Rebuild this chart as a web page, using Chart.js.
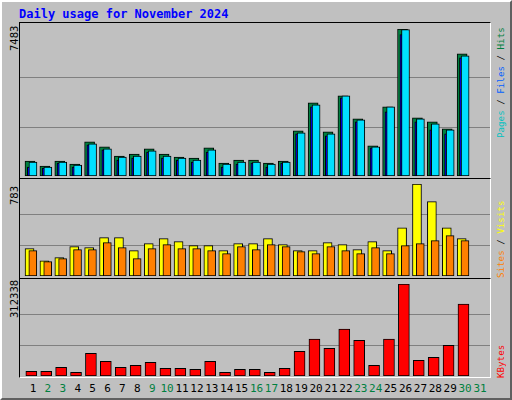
<!DOCTYPE html>
<html lang="en">
<head>
<meta charset="UTF-8">
<title>Daily usage for November 2024</title>
<script src="https://cdn.jsdelivr.net/npm/chart.js"></script>
<style>
    body { margin: 0; background: #c0c0c0; }
    #frame {
        position: absolute; left: 0; top: 0; width: 508px; height: 396px;
        background: #c0c0c0;
        border-top: 2px solid #ffffff; border-left: 2px solid #ffffff;
        border-right: 2px solid #606060; border-bottom: 2px solid #606060;
    }
    .box { position: absolute; border-top: 1px solid #000; border-left: 1px solid #000;
        border-right: 1px solid #fff; border-bottom: 1px solid #fff; }
    .plot { position: absolute; }
    .title { position: absolute; left: 19px; top: 7px; font: bold 12px "DejaVu Sans Mono", monospace; color: #0000ff; }
    .rot { position: absolute; transform-origin: 0 0; transform: rotate(-90deg); white-space: nowrap; }
    .left { font: 10px "DejaVu Sans", sans-serif; color: #000; }
    .right { font: 9.2px "DejaVu Sans Mono", monospace; }
    .day { position: absolute; top: 382px; width: 20px; margin-left: -10px; text-align: center;
        font: 11px "DejaVu Sans Mono", monospace; }
</style>
</head>
<body>
<div id="frame"></div>
<div class="title">Daily usage for November 2024</div>
<div class="box" style="left:19px;top:22px;width:470px;height:155px"></div>
<div class="box" style="left:19px;top:178px;width:470px;height:99px"></div>
<div class="box" style="left:19px;top:278px;width:470px;height:98px"></div>
<canvas class="plot" id="top" style="left:20px;top:29px;width:470px;height:147px"></canvas>
<canvas class="plot" id="mid" style="left:20px;top:184px;width:470px;height:92px"></canvas>
<canvas class="plot" id="bot" style="left:20px;top:284px;width:470px;height:92px"></canvas>

<div class="rot left" style="left:9px;top:51px">7483</div>
<div class="rot left" style="left:9px;top:205px">783</div>
<div class="rot left" style="left:9px;top:318px">312338</div>
<div class="rot right" style="left:495px;top:138px"><span style="color:#00c0c0">Pages</span> / <span style="color:#0060ff">Files</span> / <span style="color:#008040">Hits</span></div>
<div class="rot right" style="left:495px;top:278px"><span style="color:#ff8000">Sites</span> / <span style="color:#ffff00">Visits</span></div>
<div class="rot right" style="left:495px;top:378px"><span style="color:#ff0000">KBytes</span></div>
<div id="days"></div>

<script>
const days = ['1','2','3','4','5','6','7','8','9','10','11','12','13','14','15','16','17','18','19','20','21','22','23','24','25','26','27','28','29','30','31'];
const weekend = ['2','3','9','10','16','17','23','24','30','31'];

const hits  = [765,510,765,612,1735,1480,1020,1122,1378,1122,969,918,1429,663,816,816,663,765,2296,3725,2245,4082,2908,1531,3520,7483,2959,2755,2398,6224];
const files = [714,459,714,561,1633,1378,969,1020,1276,1020,918,816,1327,612,714,714,612,714,2194,3622,2143,4082,2857,1480,3520,7449,2908,2653,2347,6122];
const pages = [459,408,663,459,1582,1327,816,918,1224,918,816,714,1224,459,612,663,459,663,2143,3520,2041,3980,2755,1429,3264,7194,2755,2347,2143,6020];
const visits = [233,130,156,250,241,326,326,216,275,318,292,258,258,216,275,275,318,267,216,216,284,267,224,292,216,411,783,633,411,318];
const sites  = [216,122,148,224,224,284,241,148,233,267,233,233,216,190,250,224,267,250,207,190,250,216,190,241,190,258,275,301,343,301];
const kbytes = [15900,15900,29500,12500,77200,50000,29500,36300,46600,26100,26100,22700,50000,12500,22700,22700,12500,26100,84000,125000,94300,159000,121500,36300,125000,312338,53400,63600,104500,244000];

const maxTop = 7483, maxMid = 783, maxBot = 312338;

// day i is at x = i; extra dx shifts the overlapping bars like the original
function pts(arr, dx) {
    return arr.map((v, i) => ({ x: i + 1 + dx, y: v }));
}
function ds(arr, dx, color, width) {
    return { data: pts(arr, dx), backgroundColor: color, borderColor: '#000000',
             borderWidth: 1, barThickness: width, grouped: false, borderSkipped: false };
}
function make(id, datasets, max) {
    return new Chart(document.getElementById(id), {
        type: 'bar',
        data: { datasets: datasets },
        options: {
            responsive: false, animation: false,
            layout: { padding: 0 },
            plugins: { legend: { display: false }, tooltip: { enabled: false } },
            scales: {
                x: { type: 'linear', min: 0.13, max: 31.67, offset: false, display: false },
                y: {
                    min: 0, max: max,
                    border: { display: false },
                    ticks: { display: false },
                    grid: { color: '#808080', lineWidth: 1, drawTicks: false },
                    afterBuildTicks: s => { s.ticks = [{ value: max / 3 }, { value: max * 2 / 3 }]; },
                    afterFit: s => { s.width = 0; }
                }
            }
        }
    });
}

for (const id of ['top', 'mid', 'bot']) {
    const c = document.getElementById(id);
    c.width = parseInt(c.style.width); c.height = parseInt(c.style.height);
}

make('top', [
    ds(files, 0, '#00e0ff', 8),
    ds(pages, -0.11, '#0000ff', 8),
    ds(hits, -0.2, '#008040', 10)
], maxTop);
make('mid', [
    ds(sites, -0.01, '#ff8000', 8),
    ds(visits, -0.23, '#ffff00', 9)
], maxMid);
make('bot', [
    ds(kbytes, -0.11, '#ff0000', 11)
], maxBot);

const daysEl = document.getElementById('days');
days.forEach((d, i) => {
    const el = document.createElement('div');
    el.className = 'day';
    el.style.left = (33 + 14.9 * i) + 'px';
    el.style.color = weekend.includes(d) ? '#008040' : '#000000';
    el.textContent = d;
    daysEl.appendChild(el);
});
</script>
</body>
</html>
